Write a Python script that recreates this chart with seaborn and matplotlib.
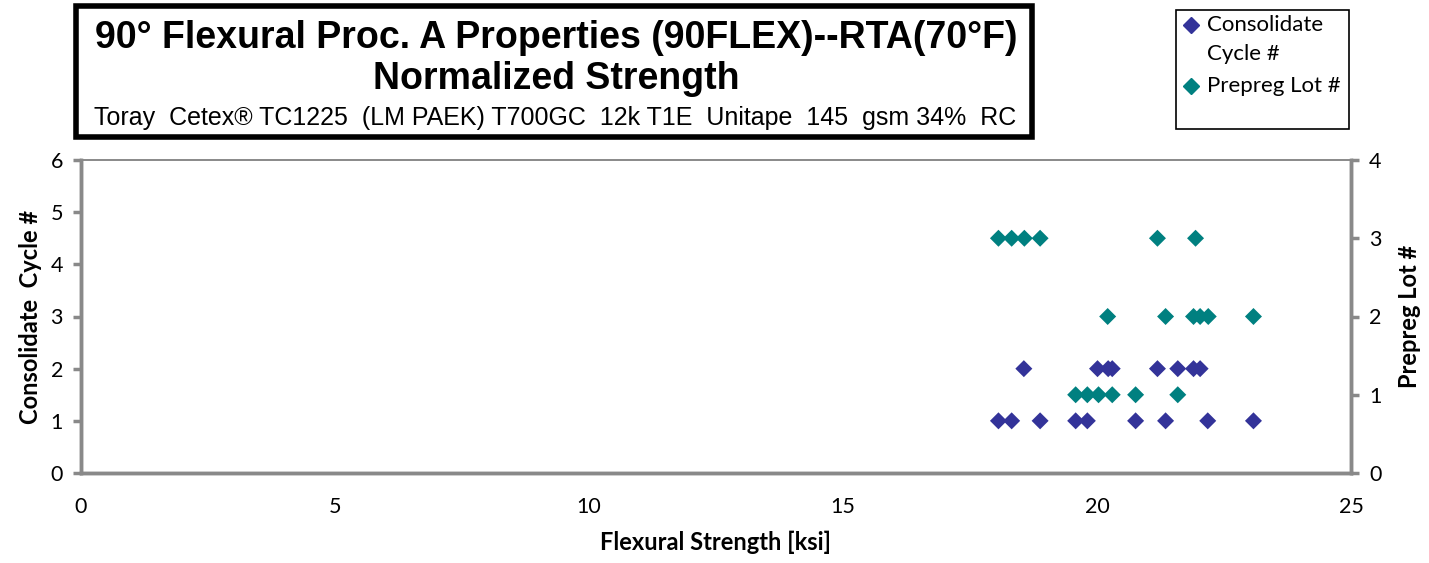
import matplotlib
matplotlib.use('Agg')
import matplotlib.pyplot as plt
import pandas as pd
import seaborn as sns
from matplotlib.patches import Rectangle
from matplotlib.lines import Line2D

# Flexural strength [ksi] with consolidate cycle #
cycle_strength = [18.06, 18.32, 18.88, 19.58, 19.81, 20.76, 21.35, 22.18, 23.08,
                  18.56, 20.01, 20.22, 20.30, 21.19, 21.59, 21.90, 22.03]
cycle_no = [1, 1, 1, 1, 1, 1, 1, 1, 1,
            2, 2, 2, 2, 2, 2, 2, 2]

# Flexural strength [ksi] with prepreg lot #
lot_strength = [19.58, 19.81, 20.03, 20.30, 20.76, 21.59,
                20.21, 21.35, 21.90, 22.03, 22.19, 23.08,
                18.06, 18.32, 18.57, 18.88, 21.19, 21.94]
lot_no = [1, 1, 1, 1, 1, 1,
          2, 2, 2, 2, 2, 2,
          3, 3, 3, 3, 3, 3]

navy = '#333399'
teal = '#008080'
grey = '#898989'

sns.set_style('white')
plt.rcParams['font.family'] = ['Lato', 'DejaVu Sans']
plt.rcParams['text.color'] = 'black'
plt.rcParams['axes.labelcolor'] = 'black'

df_cycle = pd.DataFrame({'strength': cycle_strength, 'cycle': cycle_no})
df_lot = pd.DataFrame({'strength': lot_strength, 'lot': lot_no})

fig = plt.figure(figsize=(14.29, 5.63), dpi=100)
ax = fig.add_axes([81 / 1429, 1 - 473 / 563, 1270 / 1429, 313 / 563])
ax2 = ax.twinx()

sns.scatterplot(data=df_cycle, x='strength', y='cycle', ax=ax, marker='D',
                color=navy, s=75, edgecolor='none', zorder=3)
sns.scatterplot(data=df_lot, x='strength', y='lot', ax=ax2, marker='D',
                color=teal, s=75, edgecolor='none', zorder=3)

ax.set_xlim(0, 25)
ax.set_ylim(0, 6)
ax2.set_ylim(0, 4)
ax.set_xticks(range(0, 26, 5))
ax.set_yticks(range(0, 7))
ax2.set_yticks(range(0, 5))

for a in (ax, ax2):
    for side in ('left', 'right', 'bottom'):
        a.spines[side].set_color(grey)
        a.spines[side].set_linewidth(2.5)
    a.spines['top'].set_color(grey)
    a.spines['top'].set_linewidth(1.2)
    a.tick_params(axis='both', which='both', direction='out', length=6,
                  width=2.5, color=grey, labelcolor='black', labelsize=15.5, pad=7)
ax.tick_params(axis='x', pad=11)

ax.set_xlabel('Flexural Strength [ksi]', fontsize=17, fontweight='bold', labelpad=10)
ax.set_ylabel('Consolidate  Cycle #', fontsize=17, fontweight='bold', labelpad=6)
ax2.set_ylabel('Prepreg Lot #', fontsize=17, fontweight='bold', labelpad=12)

# Title box
fig.patches.append(Rectangle((76 / 1429, 1 - 137 / 563), 956 / 1429, 131 / 563,
                             transform=fig.transFigure, fill=False,
                             edgecolor='black', linewidth=4))
tfam = ['Liberation Sans', 'DejaVu Sans']
fig.text(556 / 1429, 1 - 38 / 563, '90° Flexural Proc. A Properties (90FLEX)--RTA(70°F)',
         ha='center', va='center', fontsize=27, fontweight='bold', family=tfam)
fig.text(556 / 1429, 1 - 79 / 563, 'Normalized Strength',
         ha='center', va='center', fontsize=27, fontweight='bold', family=tfam)
fig.text(555 / 1429, 1 - 118 / 563,
         'Toray  Cetex® TC1225  (LM PAEK) T700GC  12k T1E  Unitape  145  gsm 34%  RC',
         ha='center', va='center', fontsize=18, family=tfam)

# Legend box
fig.patches.append(Rectangle((1176 / 1429, 1 - 129 / 563), 173 / 1429, 119 / 563,
                             transform=fig.transFigure, fill=False,
                             edgecolor='black', linewidth=1.2))
fig.add_artist(Line2D([1191 / 1429], [1 - 25 / 563], marker='D', color=navy,
                      markersize=8, linestyle='none', transform=fig.transFigure))
fig.text(1207 / 1429, 1 - 25 / 563, 'Consolidate', va='center', fontsize=16)
fig.text(1207 / 1429, 1 - 54 / 563, 'Cycle #', va='center', fontsize=16)
fig.add_artist(Line2D([1191 / 1429], [1 - 86 / 563], marker='D', color=teal,
                      markersize=8, linestyle='none', transform=fig.transFigure))
fig.text(1207 / 1429, 1 - 86 / 563, 'Prepreg Lot #', va='center', fontsize=16)

fig.savefig('out.png', dpi=100)
